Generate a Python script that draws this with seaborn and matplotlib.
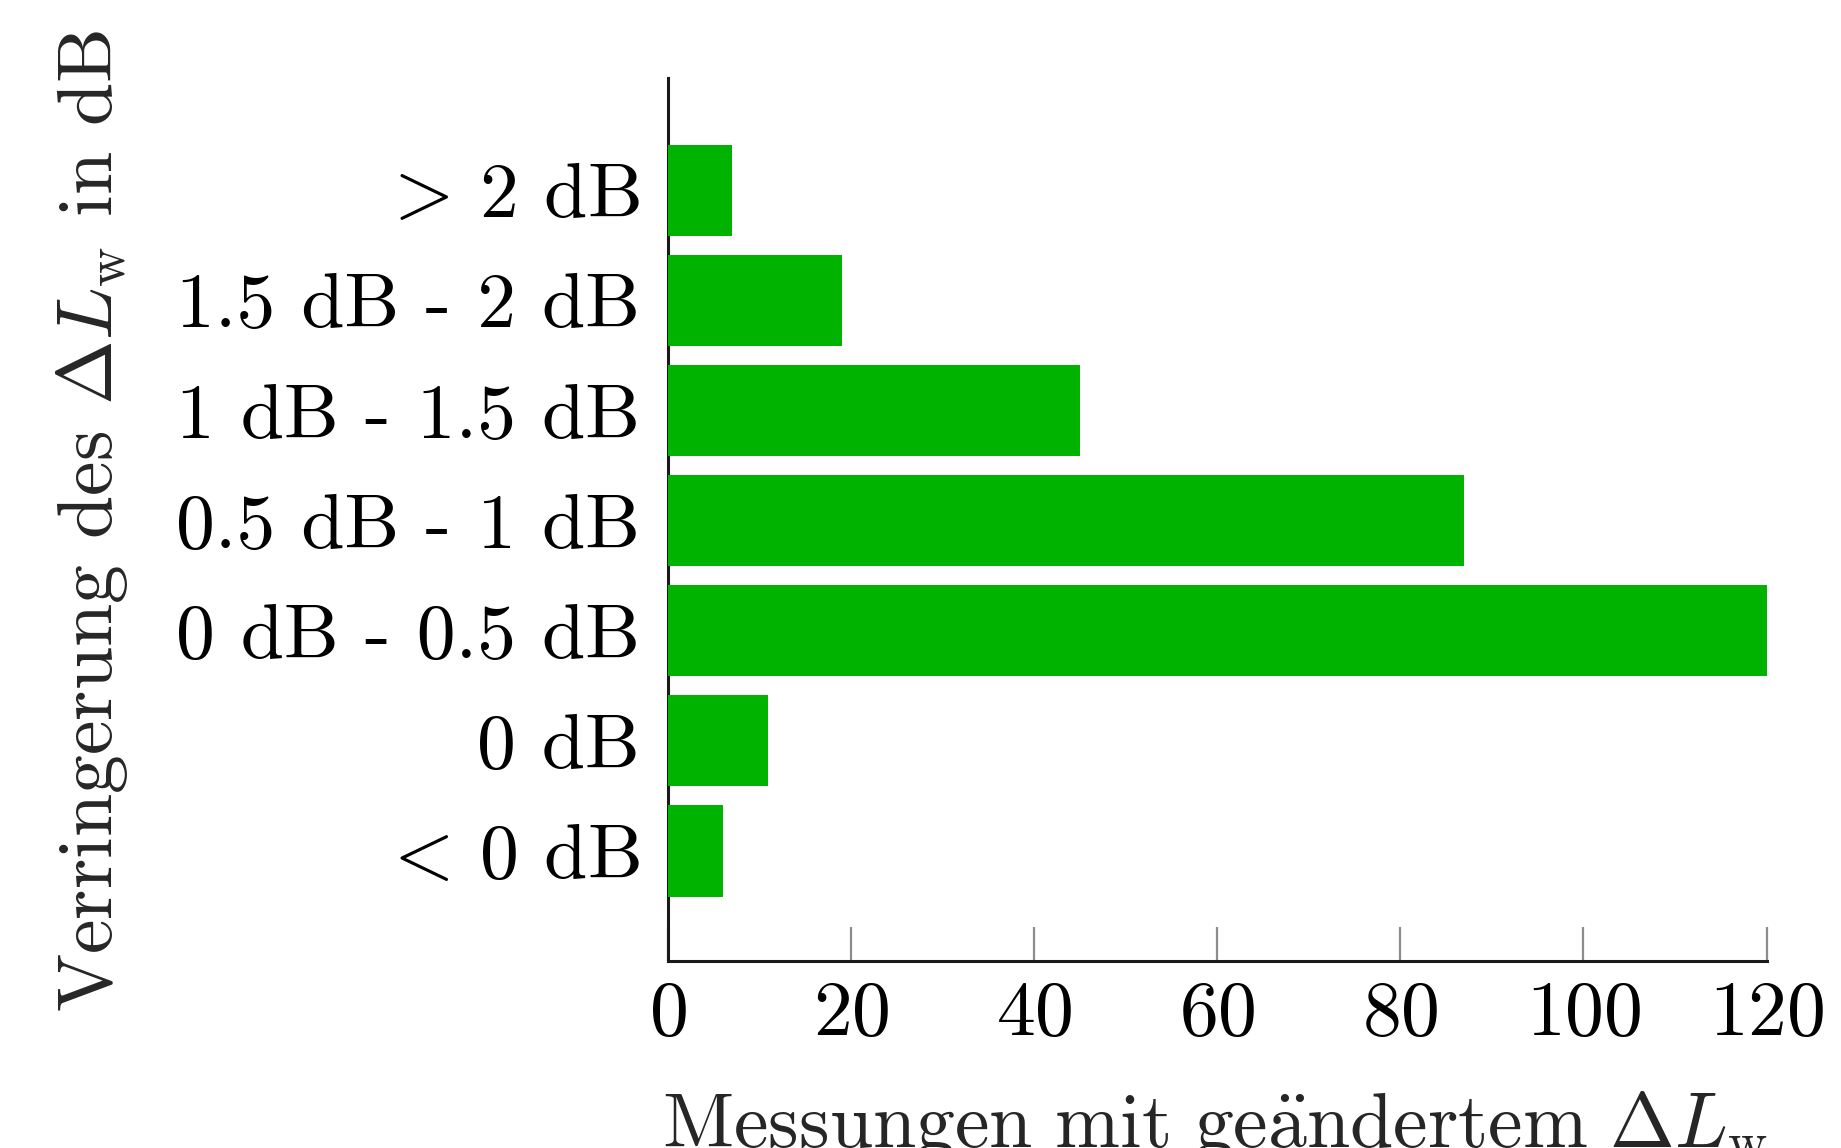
import matplotlib
matplotlib.use("Agg")
import matplotlib.pyplot as plt
import seaborn as sns
import pandas as pd

# Reduction classes of the weighted level difference, top to bottom
categories = [r"$>\,$2 dB", "1.5 dB - 2 dB", "1 dB - 1.5 dB", "0.5 dB - 1 dB",
              "0 dB - 0.5 dB", "0 dB", r"$<\,$0 dB"]
# Number of measurements per class
counts = [7, 19, 45, 87, 120, 11, 6]
x_ticks = [0, 20, 40, 60, 80, 100, 120]

df = pd.DataFrame({"klasse": categories, "anzahl": counts})

sns.set_theme(style="white")
plt.rcParams["font.family"] = "cmr10"
plt.rcParams["mathtext.fontset"] = "cm"
plt.rcParams["axes.formatter.use_mathtext"] = True
plt.rcParams["axes.unicode_minus"] = False

FS = 56

fig = plt.figure(figsize=(18.41, 11.48), dpi=100)
ax = fig.add_axes([0.3627, 0.1629, 0.5969, 0.7692])

sns.barplot(data=df, x="anzahl", y="klasse", order=categories, orient="h",
            color="#00b300", saturation=1, width=0.83, linewidth=0,
            ax=ax, zorder=3)

ax.set_xlim(0, 120)
ax.set_ylim(7.0, -1.02)
ax.set_xticks(x_ticks)
ax.set_xlabel("")
ax.set_ylabel("")

for side in ("top", "right"):
    ax.spines[side].set_visible(False)
for side in ("left", "bottom"):
    ax.spines[side].set_color("#1a1a1a")
    ax.spines[side].set_linewidth(2.2)

ax.tick_params(axis="x", direction="in", length=24.5, width=1.6,
               color="#8c8c8c", pad=14, labelsize=FS, labelcolor="black",
               bottom=True)
ax.tick_params(axis="y", length=0, pad=20, labelsize=FS, labelcolor="black")

fig.text(0.05, 0.546, r"Verringerung des $\Delta L_\mathrm{w}$ in dB",
         rotation=90, ha="center", va="center", fontsize=FS)
fig.text(0.66, 0.001,
         r"$\mathrm{Messungen\ mit\ ge\ddot{a}ndertem}\ \Delta L_\mathrm{w}$",
         ha="center", va="baseline", fontsize=FS)

fig.savefig("out.png", dpi=100, facecolor="white")
